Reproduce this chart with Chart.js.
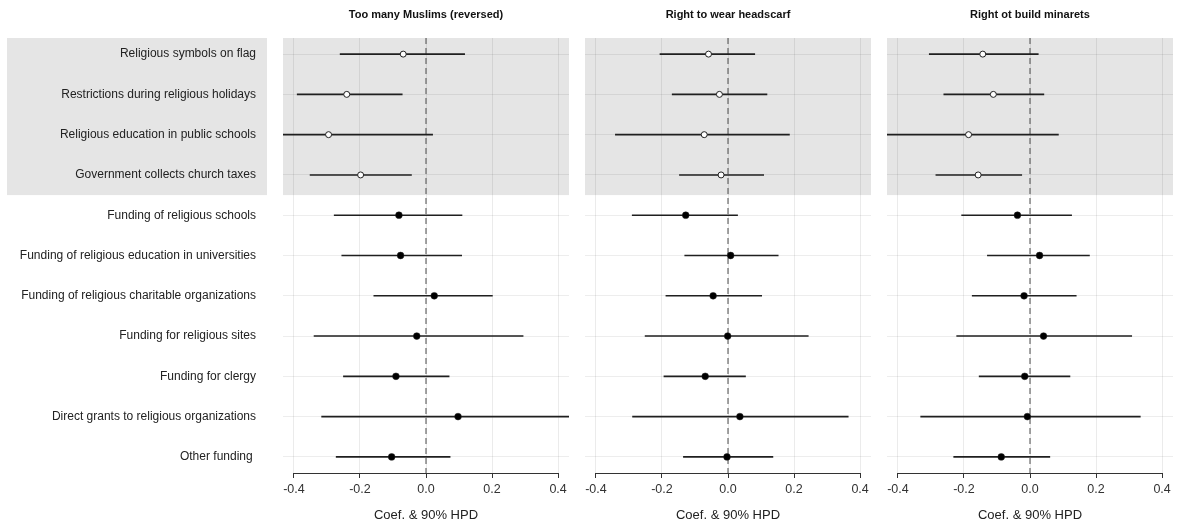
<!DOCTYPE html>
<html>
<head>
<meta charset="utf-8">
<title>Coef. & 90% HPD</title>
<script src="https://cdn.jsdelivr.net/npm/chart.js@4.4.1/dist/chart.umd.min.js"></script>
<style>
  body { margin: 0; background: #fff; width: 1179px; height: 526px; overflow: hidden; position: relative; }
  .panel { position: absolute; top: 0; height: 526px; }
</style>
</head>
<body>
<div class="panel" style="left:0;width:579px"><canvas id="c1" width="579" height="526"></canvas></div>
<div class="panel" style="left:575px;width:306px"><canvas id="c2" width="306" height="526"></canvas></div>
<div class="panel" style="left:877px;width:302px"><canvas id="c3" width="302" height="526"></canvas></div>

<script>
// ===============================
// Data
// ===============================

const categories = [
    "Religious symbols on flag",
    "Restrictions during religious holidays",
    "Religious education in public schools",
    "Government collects church taxes",
    "Funding of religious schools",
    "Funding of religious education in universities",
    "Funding of religious charitable organizations",
    "Funding for religious sites",
    "Funding for clergy",
    "Direct grants to religious organizations",
    "Other funding "
];

// first rows sit on the grey band, open circles
const shadedRows = 4;

const panelTitles = ["Too many Muslims (reversed)", "Right to wear headscarf", "Right ot build minarets"];

const xTicks = [-0.4, -0.2, 0, 0.2, 0.4];
const axisTitle = "Coef. & 90% HPD";

// Too many Muslims (reversed)
const muslimsEst = [-0.069, -0.240, -0.295, -0.198, -0.082, -0.077, 0.025, -0.028, -0.091, 0.097, -0.104];
const muslimsLo  = [-0.261, -0.391, -0.460, -0.352, -0.279, -0.256, -0.159, -0.340, -0.251, -0.317, -0.273];
const muslimsHi  = [0.118, -0.071, 0.021, -0.043, 0.110, 0.109, 0.202, 0.295, 0.071, 0.460, 0.074];

// Right to wear headscarf
const headscarfEst = [-0.059, -0.026, -0.072, -0.021, -0.128, 0.008, -0.045, -0.001, -0.069, 0.036, -0.003];
const headscarfLo  = [-0.207, -0.170, -0.342, -0.148, -0.291, -0.132, -0.189, -0.252, -0.195, -0.290, -0.136];
const headscarfHi  = [0.082, 0.119, 0.187, 0.109, 0.030, 0.153, 0.103, 0.244, 0.054, 0.365, 0.137];

// Right to build minarets
const minaretsEst = [-0.143, -0.111, -0.186, -0.157, -0.038, 0.029, -0.018, 0.041, -0.016, -0.008, -0.087];
const minaretsLo  = [-0.306, -0.262, -0.460, -0.286, -0.208, -0.130, -0.176, -0.223, -0.155, -0.332, -0.232];
const minaretsHi  = [0.026, 0.043, 0.087, -0.024, 0.127, 0.181, 0.141, 0.309, 0.122, 0.335, 0.061];

// ===============================
// Setup
// ===============================

Chart.defaults.font.family = '"Liberation Sans", Arial, Helvetica, sans-serif';

const xMin = -0.433, xMax = 0.433;
const yMin = -0.4, yMax = categories.length - 1 + 0.4;
const titleSize = 11;

// grey band behind the first rows (and behind their labels)
const latarAbu = {
    id: "latarAbu",
    beforeDraw(chart, args, opts) {
        const { ctx, chartArea, scales } = chart;
        const yTop = scales.y.getPixelForValue(yMin);
        const yBot = scales.y.getPixelForValue(shadedRows - 0.5);
        ctx.save();
        ctx.fillStyle = "#e5e5e5";
        ctx.fillRect(chartArea.left, yTop, chartArea.right - chartArea.left, yBot - yTop);
        if (opts.labelArea) {
            ctx.fillRect(opts.labelArea[0], yTop, opts.labelArea[1] - opts.labelArea[0], yBot - yTop);
        }
        ctx.restore();
    }
};

// bottom axis line only between first and last tick
const garisSumbu = {
    id: "garisSumbu",
    afterDraw(chart) {
        const { ctx, chartArea, scales } = chart;
        const y = Math.round(chartArea.bottom) + 0.5;
        ctx.save();
        ctx.strokeStyle = "#333";
        ctx.lineWidth = 1;
        ctx.beginPath();
        ctx.moveTo(scales.x.getPixelForValue(xTicks[0]), y);
        ctx.lineTo(scales.x.getPixelForValue(xTicks[xTicks.length - 1]), y);
        ctx.stroke();
        ctx.restore();
    }
};

function buatPanel(canvasId, title, est, lo, hi, withLabels, padding) {
    const intervals = categories.map((c, i) => ({
        data: [{ x: lo[i], y: i }, { x: hi[i], y: i }],
        showLine: true,
        borderColor: "#1f1f1f",
        borderWidth: 1.6,
        pointRadius: 0,
        order: 1
    }));

    const zeroLine = {
        data: [{ x: 0, y: yMin }, { x: 0, y: yMax }],
        showLine: true,
        borderColor: "#4a4a4a",
        borderWidth: 1,
        borderDash: [6, 4],
        pointRadius: 0,
        order: 2
    };

    const points = {
        data: est.map((v, i) => ({ x: v, y: i })),
        pointRadius: est.map((v, i) => i < shadedRows ? 3 : 3.4),
        pointBackgroundColor: est.map((v, i) => i < shadedRows ? "#fff" : "#000"),
        pointBorderColor: "#222",
        pointBorderWidth: est.map((v, i) => i < shadedRows ? 1 : 0.5),
        order: 0
    };

    return new Chart(document.getElementById(canvasId), {
        type: "scatter",
        data: { datasets: [zeroLine, ...intervals, points] },
        plugins: [latarAbu, garisSumbu],
        options: {
            responsive: false,
            animation: false,
            events: [],
            layout: { padding: padding },
            plugins: {
                legend: { display: false },
                tooltip: { enabled: false },
                title: {
                    display: true,
                    text: title,
                    fullSize: false,
                    color: "#111",
                    font: { size: titleSize, weight: "bold" },
                    padding: { top: 8.5, bottom: 38 - 8.5 - titleSize * 1.2 }
                },
                latarAbu: { labelArea: withLabels ? [7, 267] : null }
            },
            scales: {
                x: {
                    type: "linear",
                    min: xMin,
                    max: xMax,
                    afterBuildTicks: s => { s.ticks = xTicks.map(v => ({ value: v })); },
                    afterFit: s => { s.height = 53; },
                    ticks: {
                        callback: v => Number(v).toFixed(1),
                        color: "#333",
                        font: { size: 12.5 },
                        padding: 4,
                        maxRotation: 0,
                        autoSkip: false
                    },
                    grid: { color: "rgba(0,0,0,0.08)", tickColor: "#333", tickLength: 5 },
                    border: { display: false },
                    title: {
                        display: true,
                        text: axisTitle,
                        color: "#222",
                        font: { size: 13 },
                        padding: { top: 0, bottom: 3 }
                    }
                },
                y: {
                    type: "linear",
                    min: yMin,
                    max: yMax,
                    reverse: true,
                    afterBuildTicks: s => { s.ticks = categories.map((c, i) => ({ value: i })); },
                    afterFit: s => { s.width = withLabels ? 283 : 0; },
                    ticks: {
                        display: withLabels,
                        callback: v => categories[v],
                        color: "#222",
                        font: { size: 12 },
                        padding: 27,
                        autoSkip: false
                    },
                    grid: { color: "rgba(0,0,0,0.07)", drawTicks: false },
                    border: { display: false }
                }
            }
        }
    });
}

// ===============================
// Panels
// ===============================

buatPanel("c1", panelTitles[0], muslimsEst, muslimsLo, muslimsHi, true, { left: 0, right: 10, top: 0, bottom: 0 });
buatPanel("c2", panelTitles[1], headscarfEst, headscarfLo, headscarfHi, false, { left: 10, right: 10, top: 0, bottom: 0 });
buatPanel("c3", panelTitles[2], minaretsEst, minaretsLo, minaretsHi, false, { left: 10, right: 6, top: 0, bottom: 0 });
</script>
</body>
</html>
